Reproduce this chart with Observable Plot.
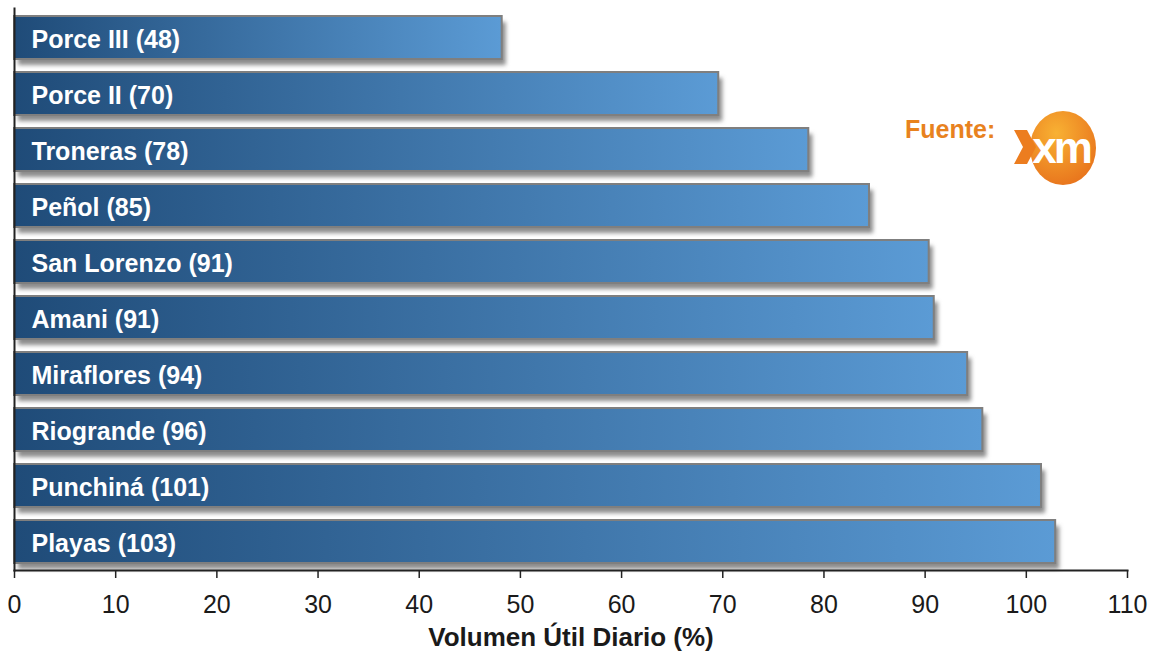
<!DOCTYPE html>
<html><head><meta charset="utf-8">
<script src="https://cdn.jsdelivr.net/npm/d3@7"></script>
<script src="https://cdn.jsdelivr.net/npm/@observablehq/plot@0.6"></script>
<style>
body{margin:0;background:#fff}
#wrap{position:relative;width:1150px;height:655px;overflow:hidden}
#logo{position:absolute;left:890px;top:100px}
</style>
</head><body><div id="wrap"></div>
<script>
const names = ["Porce III","Porce II","Troneras","Peñol","San Lorenzo","Amani","Miraflores","Riogrande","Punchiná","Playas"];
const labels = ["Porce III (48)","Porce II (70)","Troneras (78)","Peñol (85)","San Lorenzo (91)","Amani (91)","Miraflores (94)","Riogrande (96)","Punchiná (101)","Playas (103)"];
const values = [48.2, 69.6, 78.5, 84.5, 90.4, 90.9, 94.2, 95.7, 101.5, 102.9];
const xTicks = [0,10,20,30,40,50,60,70,80,90,100,110];
const axisTitle = "Volumen Útil Diario (%)";
const sourceText = "Fuente:";

const data = names.map((n,i)=>({name:n, value:values[i], label:labels[i]}));
const FONT = "'Liberation Sans',Arial,sans-serif";

const defs = () => {
  const d = d3.create("svg:defs");
  const g = d.append("linearGradient").attr("id","barGrad").attr("x1",0).attr("x2",1).attr("y1",0).attr("y2",0);
  g.append("stop").attr("offset","0%").attr("stop-color","#1f4b78");
  g.append("stop").attr("offset","100%").attr("stop-color","#5b9bd5");
  const f = d.append("filter").attr("id","shadowBlur").attr("x","-10%").attr("y","-50%").attr("width","120%").attr("height","200%");
  f.append("feGaussianBlur").attr("stdDeviation",2.2);
  return d.node();
};

const chart = Plot.plot({
  width:1150, height:655,
  marginLeft:14, marginRight:23, marginTop:8, marginBottom:85,
  style:{background:"#fff", fontFamily:FONT, fontSize:"25px", color:"#1a1a1a", overflow:"visible"},
  x:{domain:[0,110]},
  y:{domain:names, paddingInner:0.235, paddingOuter:0.117, axis:null},
  marks:[
    defs,
    Plot.barX(data,{y:"name", x:"value", fill:"#8c8c8c", dx:4, dy:6}),
    Plot.barX(data,{y:"name", x:"value", fill:"url(#barGrad)", stroke:"#7f7f7f", strokeWidth:2}),
    Plot.text(data,{y:"name", x:d=>0, text:"label", textAnchor:"start", dx:17, dy:2, fill:"white", fontWeight:"bold", fontSize:25, letterSpacing:"-0.3px"}),
    Plot.axisX({ticks:xTicks, tickSize:8, tickPadding:17, tickFormat:d=>String(d), label:null, fontSize:25, letterSpacing:"-1px", stroke:"#222", strokeWidth:1.5}),
    Plot.frame({anchor:"bottom", stroke:"#222", strokeWidth:2}),
    Plot.frame({anchor:"left", stroke:"#222", strokeWidth:2}),
    Plot.text([axisTitle],{frameAnchor:"bottom", lineAnchor:"middle", dy:67, text:d=>d, fontWeight:"bold", fontSize:26, fill:"#1a1a1a", letterSpacing:"-0.3px"})
  ]
});
const bars = chart.querySelectorAll('g[aria-label="bar"]');
if (bars[0]) bars[0].setAttribute("filter","url(#shadowBlur)");
document.getElementById("wrap").appendChild(chart);

// source logo
const logo = d3.select("#wrap").append("svg").attr("id","logo").attr("width",230).attr("height",110);
const lg = logo.append("defs").append("radialGradient").attr("id","orangeGrad").attr("cx","40%").attr("cy","30%").attr("r","75%");
lg.append("stop").attr("offset","0%").attr("stop-color","#f8b133");
lg.append("stop").attr("offset","100%").attr("stop-color","#e8731c");
logo.append("text").attr("x",15).attr("y",38).attr("font-family","'Liberation Sans',Arial,sans-serif").attr("font-weight","bold").attr("font-size",25).attr("fill","#e8821e").text(sourceText);
logo.append("ellipse").attr("cx",173).attr("cy",48).attr("rx",33).attr("ry",37).attr("fill","url(#orangeGrad)");
logo.append("path").attr("d","M124,30 L137,30 L146,47 L137,64 L124,64 L133,47 Z").attr("fill","#ec7d1f");
logo.append("text").attr("x",171).attr("y",63).attr("text-anchor","middle").attr("font-family","'Liberation Sans',Arial,sans-serif").attr("font-weight","bold").attr("font-size",44).attr("letter-spacing","-3px").attr("fill","#fff").text("xm");
</script>
</body></html>
